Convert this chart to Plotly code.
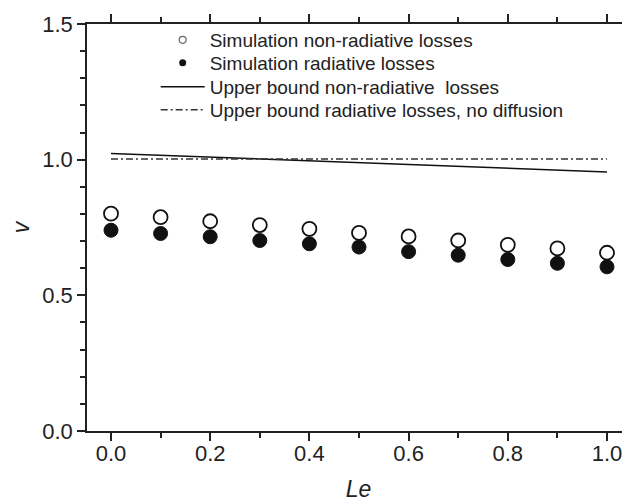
import plotly.graph_objects as go

# Data
le = [0.0, 0.1, 0.2, 0.3, 0.4, 0.5, 0.6, 0.7, 0.8, 0.9, 1.0]
v_nonrad = [0.801, 0.788, 0.773, 0.759, 0.745, 0.730, 0.717, 0.702, 0.686, 0.673, 0.657]
v_rad = [0.740, 0.728, 0.716, 0.702, 0.690, 0.678, 0.661, 0.648, 0.632, 0.618, 0.605]
le_bound = [0.0, 0.5, 1.0]
v_bound_nonrad = [1.023, 0.989, 0.955]
v_bound_rad = [1.002, 1.002, 1.002]

names = [
    "Simulation non-radiative losses",
    "Simulation radiative losses",
    "Upper bound non-radiative  losses",
    "Upper bound radiative losses, no diffusion",
]

FONT = "Liberation Sans, Arial, sans-serif"
INK = "#222222"
DASHDOT = "7px,3px,2px,3px"

fig = go.Figure()

# main marks
fig.add_trace(go.Scatter(x=le_bound, y=v_bound_nonrad, mode="lines",
                         line=dict(color="#111111", width=1.5), showlegend=False))
fig.add_trace(go.Scatter(x=le_bound, y=v_bound_rad, mode="lines",
                         line=dict(color="#333333", width=1.5, dash=DASHDOT),
                         showlegend=False))
fig.add_trace(go.Scatter(x=le, y=v_nonrad, mode="markers",
                         marker=dict(symbol="circle", size=14, color="white",
                                     line=dict(color="#111111", width=1.8)),
                         showlegend=False))
fig.add_trace(go.Scatter(x=le, y=v_rad, mode="markers",
                         marker=dict(symbol="circle", size=14, color="#111111",
                                     line=dict(color="#111111", width=1)),
                         showlegend=False))

# legend entries (small symbols as in the reference), one legend per row
fig.add_trace(go.Scatter(x=[None], y=[None], mode="markers", name=names[0], legend="legend",
                         marker=dict(symbol="circle", size=7, color="white",
                                     line=dict(color="#666666", width=1.2))))
fig.add_trace(go.Scatter(x=[None], y=[None], mode="markers", name=names[1], legend="legend2",
                         marker=dict(symbol="circle", size=7, color="#111111")))
fig.add_trace(go.Scatter(x=[None], y=[None], mode="lines", name=names[2], legend="legend3",
                         line=dict(color="#111111", width=1.5)))
fig.add_trace(go.Scatter(x=[None], y=[None], mode="lines", name=names[3], legend="legend4",
                         line=dict(color="#333333", width=1.5, dash=DASHDOT)))

def leg(yc):
    return dict(x=0.1265, y=yc, xanchor="left", yanchor="middle",
                font=dict(size=19, family=FONT, color=INK),
                bgcolor="rgba(0,0,0,0)", itemwidth=44)

fig.update_layout(
    width=622, height=494,
    margin=dict(l=79, r=0, t=16, b=71),
    paper_bgcolor="white", plot_bgcolor="white",
    font=dict(family=FONT, color=INK),
    legend=leg(0.9608),
    legend2=leg(0.9044),
    legend3=leg(0.8456),
    legend4=leg(0.7892),
)

fig.update_xaxes(
    range=[-24 / 496, 519 / 496],
    tickvals=[0.0, 0.2, 0.4, 0.6, 0.8, 1.0],
    ticktext=["0.0", "0.2", "0.4", "0.6", "0.8", "1.0"],
    ticks="outside", ticklen=8, tickwidth=1.5, tickcolor=INK,
    minor=dict(dtick=0.1, tick0=0, ticks="outside", ticklen=5, tickwidth=1.5, tickcolor=INK),
    showline=True, linecolor=INK, linewidth=1.5, mirror="ticks",
    showgrid=False, zeroline=False, automargin=False,
    tickfont=dict(size=22, family=FONT, color=INK),
    ticklabelstandoff=-6,
    title=dict(text="<i>Le</i>", font=dict(size=23, family=FONT, color=INK), standoff=27),
)
fig.update_yaxes(
    range=[0, 1.5],
    tickvals=[0.0, 0.5, 1.0, 1.5],
    ticktext=["0.0", "0.5", "1.0", "1.5"],
    ticks="outside", ticklen=8, tickwidth=1.5, tickcolor=INK,
    minor=dict(dtick=0.1, tick0=0, ticks="outside", ticklen=5, tickwidth=1.5, tickcolor=INK),
    showline=True, linecolor=INK, linewidth=1.5,
    showgrid=False, zeroline=False, automargin=False,
    tickfont=dict(size=22, family=FONT, color=INK),
    title=dict(text="<i>v</i>", font=dict(size=23, family=FONT, color=INK), standoff=14),
)

fig.write_html("out.html")
